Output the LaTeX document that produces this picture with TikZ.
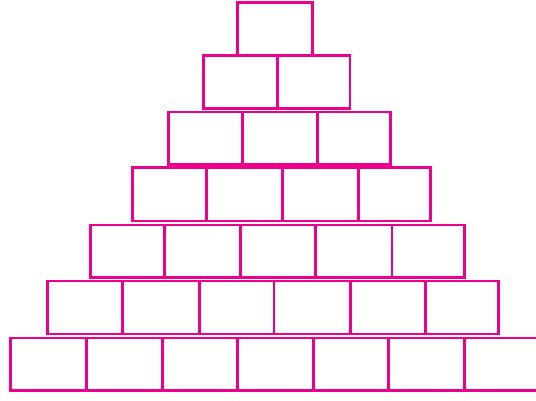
\documentclass[tikz,border=0pt]{standalone}
\usepackage{tikz}
\definecolor{brickpink}{HTML}{EC008C}

\begin{document}
\begin{tikzpicture}[x=1pt,y=-1pt]
      \tikzstyle{brick}=[draw=brickpink, line width=2.6pt, inner sep=0pt,
            outer sep=0pt, anchor=north west, minimum height=52.5pt]
      \useasboundingbox (0,0) rectangle (536,400);

      % row 1
      \node[brick, minimum width=75] (r1a) at (237.3,2.3) {};

      % row 2
      \node[brick, minimum width=74] (r2a) at (203.3,55.7) {};
      \node[brick, minimum width=72.7] (r2b) at (277.3,55.7) {};

      % row 3
      \node[brick, minimum width=74.4] (r3a) at (168.3,112) {};
      \node[brick, minimum width=75] (r3b) at (242.7,112) {};
      \node[brick, minimum width=73] (r3c) at (317.7,112) {};

      % row 4
      \node[brick, minimum width=74.4, minimum height=53.7] (r4a) at (132.3,167.3) {};
      \node[brick, minimum width=75.6, minimum height=53.7] (r4b) at (206.7,167.3) {};
      \node[brick, minimum width=76, minimum height=53.7] (r4c) at (282.3,167.3) {};
      \node[brick, minimum width=72.4, minimum height=53.7] (r4d) at (358.3,167.3) {};

      % row 5
      \node[brick, minimum width=73.6] (r5a) at (90.7,225) {};
      \node[brick, minimum width=76.4] (r5b) at (164.3,225) {};
      \node[brick, minimum width=74.6] (r5c) at (240.7,225) {};
      \node[brick, minimum width=76.7] (r5d) at (315.3,225) {};
      \node[brick, minimum width=72.3] (r5e) at (392,225) {};

      % row 6
      \node[brick, minimum width=75, minimum height=53] (r6a) at (47.7,281) {};
      \node[brick, minimum width=76.6, minimum height=53] (r6b) at (122.7,281) {};
      \node[brick, minimum width=74.7, minimum height=53] (r6c) at (199.3,281) {};
      \node[brick, minimum width=76.3, minimum height=53] (r6d) at (274,281) {};
      \node[brick, minimum width=75, minimum height=53] (r6e) at (350.3,281) {};
      \node[brick, minimum width=73, minimum height=53] (r6f) at (425.3,281) {};

      % row 7
      \node[brick, minimum width=75.6] (r7a) at (10.7,338) {};
      \node[brick, minimum width=76] (r7b) at (86.3,338) {};
      \node[brick, minimum width=75.4] (r7c) at (162.3,338) {};
      \node[brick, minimum width=76] (r7d) at (237.7,338) {};
      \node[brick, minimum width=74.6] (r7e) at (313.7,338) {};
      \node[brick, minimum width=76.4] (r7f) at (388.3,338) {};
      \node[brick, minimum width=75.6] (r7g) at (464.7,338) {};

\end{tikzpicture}
\end{document}
